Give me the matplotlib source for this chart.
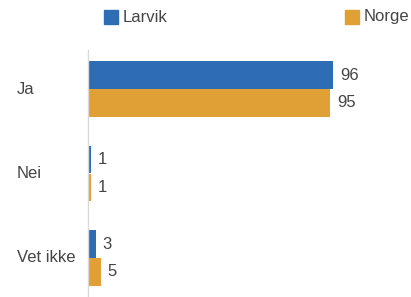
import matplotlib
matplotlib.use("Agg")
import matplotlib.pyplot as plt
import matplotlib.transforms as mtransforms
from matplotlib.patches import Rectangle
import numpy as np

categories = ["Ja", "Nei", "Vet ikke"]
series_names = ["Larvik", "Norge"]
larvik = [96, 1, 3]
norge = [95, 1, 5]

colors = ["#2E6DB5", "#E0A035"]
text_color = "#454545"
plt.rcParams['font.family'] = ['Liberation Sans', 'DejaVu Sans']

W, H = 411, 297
fig = plt.figure(figsize=(W / 100, H / 100), dpi=100)
ax_left, ax_top = 88, 50
ax = fig.add_axes([ax_left / W, 0, (W - ax_left) / W, (H - ax_top) / H])

px_per_unit = 2.552
ax.set_xlim(0, (W - ax_left) / px_per_unit)
pad = 39 / 84.5
ax.set_ylim(len(categories) - 1 + pad, -pad)

y = np.arange(len(categories))
h = 0.33
b1 = ax.barh(y - h / 2, larvik, height=h, color=colors[0])
b2 = ax.barh(y + h / 2, norge, height=h, color=colors[1])

for bars, vals in ((b1, larvik), (b2, norge)):
    for rect, v in zip(bars, vals):
        ax.annotate(f"{v}", xy=(rect.get_width(), rect.get_y() + rect.get_height() / 2),
                    xytext=(5, 0), textcoords="offset points", va="center", ha="left",
                    fontsize=12, color=text_color)

for s in ["top", "right", "bottom"]:
    ax.spines[s].set_visible(False)
ax.spines["left"].set_color("#D9D9D9")
ax.spines["left"].set_linewidth(1.0)
ax.set_xticks([])
ax.set_yticks([])

label_tr = mtransforms.blended_transform_factory(fig.transFigure, ax.transData)
for yi, cat in zip(y, categories):
    ax.text(17 / W, yi, cat, transform=label_tr, ha="left", va="center",
            fontsize=12, color=text_color)

# legend
leg_items = [(104, series_names[0], colors[0]), (345, series_names[1], colors[1])]
for x0, name, c in leg_items:
    fig.patches.append(Rectangle((x0 / W, 1 - 24 / H), 14 / W, 14 / H, transform=fig.transFigure,
                                 color=c, figure=fig))
    fig.text((x0 + 19) / W, 1 - 17 / H, name, ha="left", va="center", fontsize=12, color=text_color)

fig.savefig("out.png", dpi=100)
